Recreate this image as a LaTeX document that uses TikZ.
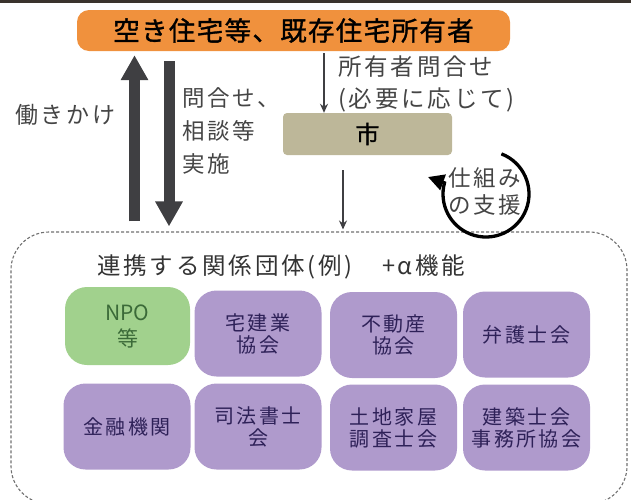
\documentclass[tikz,border=0pt]{standalone}
\usepackage{fontspec}
\setmainfont{Noto Sans CJK JP}
\newfontfamily\jp{Noto Sans CJK JP}[LetterSpace=12]
\newfontfamily\jpb{Noto Sans CJK JP}[FakeBold=1.2,LetterSpace=5]
\usetikzlibrary{arrows.meta}
\definecolor{orangefill}{HTML}{F0913D}
\definecolor{tanfill}{HTML}{BDB799}
\definecolor{greenfill}{HTML}{A1D18D}
\definecolor{purpfill}{HTML}{AF9ACC}
\definecolor{purptext}{HTML}{2E2158}
\definecolor{greentext}{HTML}{3B6A38}
\definecolor{lblgray}{HTML}{454545}
\definecolor{arrgray}{HTML}{3F3F42}
\definecolor{dashgray}{HTML}{707070}
\definecolor{topbar}{HTML}{3A332D}
\newcommand\fsz[2]{\fontsize{#1}{#2}\selectfont}
\begin{document}
\begin{tikzpicture}[x=1pt,y=-1pt,
  ownerbox/.style={fill=orangefill, rounded corners=12pt, minimum width=433pt, minimum height=41pt, inner sep=0pt, font=\jpb\fsz{26.5}{30}, text=black},
  citybox/.style={fill=tanfill, rounded corners=4pt, minimum width=169pt, minimum height=42pt, inner sep=0pt, font=\jpb\fsz{24}{28}, text=black},
  grpframe/.style={draw=dashgray, line width=1.1pt, dash pattern=on 3pt off 2pt, rounded corners=38pt, minimum width=616pt, minimum height=272pt, inner sep=0pt},
  orgbox/.style={fill=purpfill, rounded corners=22pt, minimum width=127pt, minimum height=86pt, inner sep=0pt, align=center, text=purptext, font=\jp\fsz{20}{22}},
  npobox/.style={orgbox, fill=greenfill, text=greentext, minimum width=125pt, minimum height=78pt, font=\rmfamily\fsz{21}{26}},
  lbl/.style={inner sep=0pt, text=lblgray, align=left},
  bigarr/.style={draw=arrgray, line width=11pt, -{Triangle[length=25pt,width=26pt]}},
  thinarr/.style={draw=arrgray, line width=1.8pt, -{Stealth[length=9pt,width=8pt]}},
  looparr/.style={draw=black, line width=3.3pt, -{Triangle[length=16pt,width=16pt]}}
]
\useasboundingbox (0,0) rectangle (631,499);
\clip (0,0) rectangle (631,499);
\fill[topbar] (0,0) rectangle (631,3);

% frame of partner organisations
\node[grpframe] (grp) at (319,368) {};
\node[lbl, anchor=west, text=black!80, font=\jp\fsz{23.5}{28}] (grptitle) at (97,267)
  {連携する関係団体(例)\hspace{30pt}+\hspace{2pt}α機能};

% main boxes
\node[ownerbox] (own) at (293.5,30.5) {空き住宅等、既存住宅所有者};
\node[citybox] (city) at (367.5,134) {市};

% thick arrows
\coordinate (ux) at (134.5,0);
\coordinate (dx) at (169,0);
\draw[bigarr, shorten <=10pt, shorten >=4pt] (ux |- grp.north) -- (ux |- own.south);
\draw[bigarr, shorten <=10pt, shorten >=5pt] (dx |- own.south) -- (dx |- grp.north);

% thin arrows
\coordinate (t1) at (324,0);
\coordinate (t2) at (343,0);
\draw[thinarr, shorten <=2pt] (t1 |- own.south) -- (t1 |- city.north);
\draw[thinarr, shorten <=15pt, shorten >=2pt] (t2 |- city.south) -- (t2 |- grp.north);

% circular arrow
\coordinate (cc) at (486,194);
\draw[looparr] ([shift={(-69:43)}]cc) arc[start angle=-69, end angle=195, radius=43] -- ([shift={(-58,-17)}]cc);

% labels
\node[lbl, anchor=west, font=\jp\fsz{23}{28}] (hataraki) at (15,115) {働きかけ};
\node[lbl, anchor=west, font=\jp\fsz{22.5}{33}] (toiawase) at (182,130.5) {問合せ、\\相談等\\実施};
\node[lbl, anchor=west, font=\jp\fsz{23.5}{32}] (shoyusha) at (338,84) {所有者問合せ\\(必要に応じて)};
\node[lbl, anchor=west, font=\jp\fsz{22.5}{27}] (shikumi) at (448,191) {仕組み\\の支援};

% organisations
\node[npobox] (npo) at (127.5,326) {NPO\\等};
\node[orgbox] (takken) at (258,333.5) {宅建業\\協会};
\node[orgbox] (fudosan) at (393.5,335) {不動産\\協会};
\node[orgbox] (bengo) at (526.5,334.5) {弁護士会};
\node[orgbox] (kinyu) at (127,426.5) {金融機関};
\node[orgbox] (shiho) at (258,426.5) {司法書士\\会};
\node[orgbox] (tochi) at (393.5,427.5) {土地家屋\\調査士会};
\node[orgbox] (kenchiku) at (526.5,427.5) {建築士会\\事務所協会};
\end{tikzpicture}
\end{document}
